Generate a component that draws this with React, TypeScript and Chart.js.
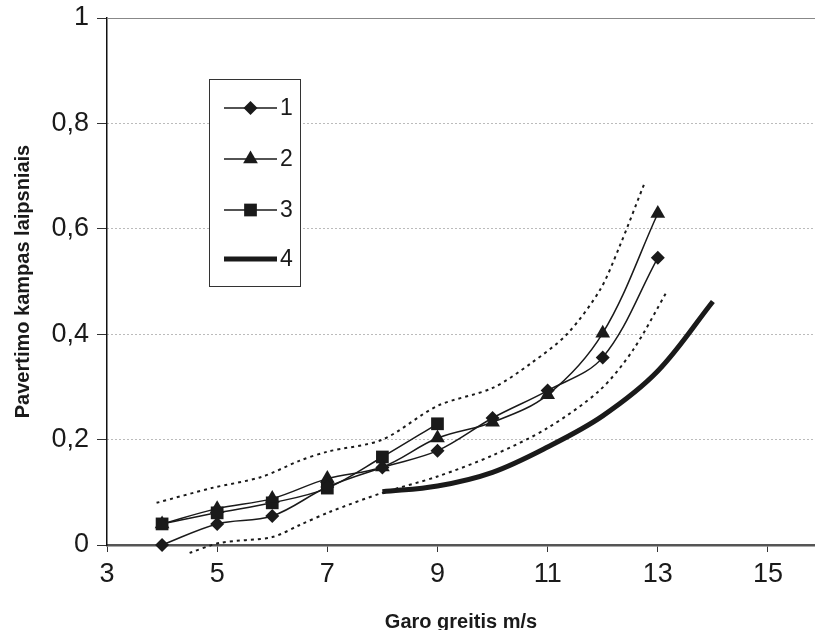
import React, { useEffect, useRef } from "react";
import { Chart, registerables } from "chart.js";

Chart.register(...registerables);

// ---- data ----
const speeds = [4, 5, 6, 7, 8, 9, 10, 11, 12, 13];
const series1 = [0, 0.04, 0.055, 0.11, 0.147, 0.179, 0.241, 0.293, 0.356, 0.545];
const series2 = [0.04, 0.069, 0.088, 0.126, 0.148, 0.203, 0.233, 0.285, 0.402, 0.629];
const speeds3 = [4, 5, 6, 7, 8, 9];
const series3 = [0.04, 0.061, 0.08, 0.108, 0.167, 0.23];
const speeds4 = [8, 9, 10, 11, 12, 13, 14];
const series4 = [0.101, 0.112, 0.138, 0.186, 0.245, 0.33, 0.462];
const upperX = [3.9, 4.9, 5.8, 6.5, 7, 8, 9, 10, 10.7, 11.35, 11.95, 12.3, 12.76];
const upperY = [0.08, 0.108, 0.129, 0.16, 0.177, 0.2, 0.264, 0.298, 0.345, 0.4, 0.484, 0.565, 0.687];
const lowerX = [4.5, 5.05, 6.0, 6.5, 7.05, 8, 9, 10, 11, 11.95, 12.55, 13.16];
const lowerY = [-0.015, 0.004, 0.015, 0.038, 0.063, 0.099, 0.13, 0.17, 0.222, 0.294, 0.37, 0.48];

const xTicks = [3, 5, 7, 9, 11, 13, 15];
const yTicks = [0, 0.2, 0.4, 0.6, 0.8, 1];
const legendLabels = ["1", "2", "3", "4"];
const xTitle = "Garo greitis m/s";
const yTitle = "Pavertimo kampas laipsniais";

const FONT = "'Liberation Sans', Arial, Helvetica, sans-serif";
const INK = "#1a1a1a";

const pts = (xs: number[], ys: number[]) => xs.map((x, i) => ({ x, y: ys[i] }));

function drawMarker(ctx: CanvasRenderingContext2D, style: string, x: number, y: number, r: number) {
  ctx.beginPath();
  if (style === "rectRot") {
    ctx.moveTo(x, y - r);
    ctx.lineTo(x + r, y);
    ctx.lineTo(x, y + r);
    ctx.lineTo(x - r, y);
  } else if (style === "triangle") {
    for (let k = 0; k < 3; k++) {
      const a = (k * 2 * Math.PI) / 3;
      const px = x + Math.sin(a) * r;
      const py = y - Math.cos(a) * r;
      if (k === 0) ctx.moveTo(px, py);
      else ctx.lineTo(px, py);
    }
  } else if (style === "rect") {
    const s = Math.SQRT1_2 * r;
    ctx.rect(x - s, y - s, 2 * s, 2 * s);
  }
  ctx.closePath();
  ctx.fill();
}

const legendSpec = [
  { style: "rectRot", r: 7, w: 1.5 },
  { style: "triangle", r: 8.5, w: 1.5 },
  { style: "rect", r: 9, w: 1.5 },
  { style: "none", r: 0, w: 5 },
];

const decorPlugin = {
  id: "decor",
  afterDraw(chart: any) {
    const ctx: CanvasRenderingContext2D = chart.ctx;
    const area = chart.chartArea;
    const ys = chart.scales.y;
    ctx.save();
    // solid top line at y = 1
    const yTop = Math.round(ys.getPixelForValue(1)) + 0.5;
    ctx.strokeStyle = "#888";
    ctx.lineWidth = 1;
    ctx.beginPath();
    ctx.moveTo(area.left, yTop);
    ctx.lineTo(area.right, yTop);
    ctx.stroke();

    // legend box
    const bx = 209.5, by = 79.5, bw = 91, bh = 207;
    ctx.fillStyle = "#fff";
    ctx.fillRect(bx, by, bw, bh);
    ctx.strokeStyle = "#333";
    ctx.lineWidth = 1;
    ctx.strokeRect(bx, by, bw, bh);
    const rows = [108, 159, 210, 259];
    ctx.fillStyle = INK;
    ctx.strokeStyle = INK;
    ctx.font = `23px ${FONT}`;
    ctx.textBaseline = "middle";
    ctx.textAlign = "left";
    legendSpec.forEach((s, i) => {
      const y = rows[i];
      ctx.lineWidth = s.w;
      ctx.beginPath();
      ctx.moveTo(224, y);
      ctx.lineTo(277, y);
      ctx.stroke();
      if (s.style !== "none") drawMarker(ctx, s.style, 250.5, y, s.r);
      ctx.fillText(legendLabels[i], 280, y + 1);
    });

    // axis titles
    ctx.font = `bold 20px ${FONT}`;
    ctx.textAlign = "center";
    ctx.textBaseline = "alphabetic";
    ctx.fillText(xTitle, (area.left + area.right) / 2, 628);
    ctx.translate(29, (area.top + area.bottom) / 2);
    ctx.rotate(-Math.PI / 2);
    ctx.fillText(yTitle, 0, 0);
    ctx.restore();
  },
};

export default function App() {
  const ref = useRef<HTMLCanvasElement | null>(null);

  useEffect(() => {
    if (!ref.current) return;
    const lineBase = {
      borderColor: INK,
      backgroundColor: INK,
      pointBorderColor: INK,
      pointBackgroundColor: INK,
      borderWidth: 1.5,
      pointBorderWidth: 0,
      tension: 0.35,
      clip: false as any,
    };
    const chart = new Chart(ref.current, {
      type: "line",
      data: {
        datasets: [
          {
            label: "upper",
            data: pts(upperX, upperY),
            borderColor: INK,
            borderWidth: 2,
            borderDash: [3, 4],
            pointRadius: 0,
            tension: 0.3,
            clip: false as any,
          },
          {
            label: "lower",
            data: pts(lowerX, lowerY),
            borderColor: INK,
            borderWidth: 2,
            borderDash: [3, 4],
            pointRadius: 0,
            tension: 0.3,
            clip: false as any,
          },
          {
            ...lineBase,
            label: "4",
            data: pts(speeds4, series4),
            borderWidth: 5,
            pointRadius: 0,
          },
          {
            ...lineBase,
            label: "1",
            data: pts(speeds, series1),
            pointStyle: "rectRot",
            pointRadius: 7,
          },
          {
            ...lineBase,
            label: "2",
            data: pts(speeds, series2),
            pointStyle: "triangle",
            pointRadius: 8.5,
          },
          {
            ...lineBase,
            label: "3",
            data: pts(speeds3, series3),
            pointStyle: "rect",
            pointRadius: 9,
          },
        ],
      },
      options: {
        responsive: false,
        animation: false,
        events: [],
        layout: { autoPadding: false, padding: { top: 18, right: 0, left: 0, bottom: 0 } },
        plugins: { legend: { display: false }, tooltip: { enabled: false } },
        scales: {
          x: {
            type: "linear",
            min: 3,
            max: 15.854,
            afterBuildTicks: (s: any) => {
              s.ticks = xTicks.map((v) => ({ value: v }));
            },
            afterFit: (s: any) => {
              s.height = 85;
              s.paddingLeft = 0;
              s.paddingRight = 0;
            },
            grid: { drawOnChartArea: false, drawTicks: true, tickLength: 7, tickColor: "#333", tickWidth: 1 },
            border: { color: "#555", width: 2.5 },
            ticks: {
              font: { family: FONT, size: 27 },
              color: INK,
              padding: 6,
              maxRotation: 0,
              autoSkip: false,
            },
          },
          y: {
            type: "linear",
            min: 0,
            max: 1,
            afterBuildTicks: (s: any) => {
              s.ticks = yTicks.map((v) => ({ value: v }));
            },
            afterFit: (s: any) => {
              s.width = 107;
              s.paddingTop = 0;
              s.paddingBottom = 0;
            },
            grid: { color: "#777", lineWidth: 1, drawTicks: true, tickLength: 10, tickColor: "#333", tickWidth: 1 },
            border: { color: "#111", width: 1.5, dash: [1, 3] },
            ticks: {
              font: { family: FONT, size: 27 },
              color: INK,
              padding: 8,
              callback: (v: any) => {
                const n = Number(v);
                if (n === 0 || n === 1) return String(n);
                return n.toFixed(1).replace(".", ",");
              },
            },
          },
        },
      },
      plugins: [decorPlugin],
    });
    return () => chart.destroy();
  }, []);

  return (
    <div style={{ position: "absolute", left: 0, top: 0, width: 815, height: 630, background: "#fff" }}>
      <canvas ref={ref} width={815} height={630} style={{ display: "block" }} />
    </div>
  );
}
